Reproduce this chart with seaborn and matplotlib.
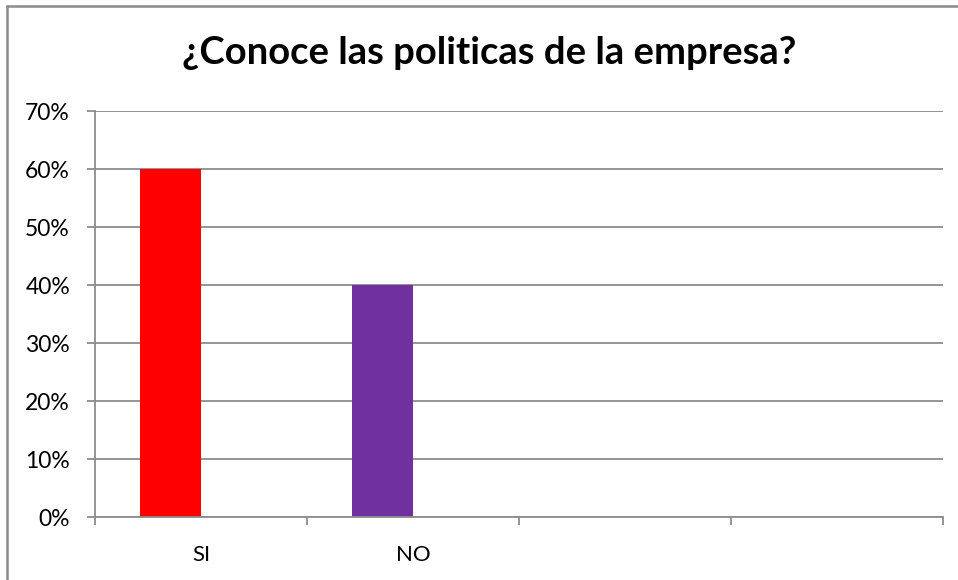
import matplotlib
matplotlib.use("Agg")
import matplotlib.pyplot as plt
from matplotlib.lines import Line2D
from matplotlib.ticker import FixedLocator, PercentFormatter
import seaborn as sns
import pandas as pd

# Survey answers and their shares
categories = ["SI", "NO"]
values = [0.60, 0.40]
bar_colors = ["#FF0000", "#7030A0"]
series = ["Serie1", "Serie2"]  # second series is empty, as in a clustered chart
y_ticks = [0.0, 0.1, 0.2, 0.3, 0.4, 0.5, 0.6, 0.7]
title = "¿Conoce las politicas de la empresa?"
n_slots = 4  # category slots on the x axis (two left empty)

sns.set_theme(style="white")
plt.rcParams["font.family"] = ["Lato", "DejaVu Sans"]

df = pd.DataFrame({"respuesta": categories, "valor": values, "serie": series[0]})

fig = plt.figure(figsize=(9.58, 5.8), dpi=100)
ax = fig.add_axes([95 / 958, 1 - 517 / 580, (943 - 95) / 958, (517 - 111) / 580])

sns.barplot(data=df, x="respuesta", y="valor", hue="serie", hue_order=series,
            order=categories, dodge=True, width=0.58, legend=False, ax=ax,
            saturation=1)
# each answer gets its own fill colour
bars = [p for p in ax.patches if p.get_height() > 0]
for bar, col in zip(bars, bar_colors):
    bar.set_facecolor(col)
    bar.set_edgecolor("none")

grid_col = "#8c8c8c"
ax.set_xlim(-0.5, n_slots - 0.5)
ax.set_ylim(0, 0.7)
ax.yaxis.set_major_locator(FixedLocator(y_ticks))
ax.yaxis.set_major_formatter(PercentFormatter(1.0, decimals=0))
ax.grid(axis="y", color=grid_col, linewidth=1.3)
ax.set_axisbelow(True)

ax.set_xlabel("")
ax.set_ylabel("")
ax.set_xticks(range(len(categories)))
ax.set_xticklabels(categories)
ax.set_xticks([i - 0.5 for i in range(n_slots + 1)], minor=True)

ax.tick_params(axis="x", which="major", length=0, pad=20, labelsize=16, colors="black")
ax.tick_params(axis="x", which="minor", length=6, width=1.3, color=grid_col, direction="out", bottom=True)
ax.tick_params(axis="y", which="major", length=6, width=1.3, color=grid_col, direction="out",
               left=True, pad=12, labelsize=16.5, labelcolor="black")

for side in ("top", "right"):
    ax.spines[side].set_visible(False)
for side in ("left", "bottom"):
    ax.spines[side].set_color(grid_col)
    ax.spines[side].set_linewidth(1.3)

fig.text(489 / 958, 1 - 64 / 580, title, ha="center", va="baseline",
         fontsize=27.5, fontweight="bold", color="black")

# chart area frame
fig.add_artist(Line2D([7 / 958, 7 / 958], [0, 1 - 6 / 580], transform=fig.transFigure,
                      color="#8a8a8a", linewidth=1.8))
fig.add_artist(Line2D([7 / 958, 1], [1 - 6 / 580, 1 - 6 / 580], transform=fig.transFigure,
                      color="#8a8a8a", linewidth=1.8))

fig.savefig("out.png", dpi=100, facecolor="white")
